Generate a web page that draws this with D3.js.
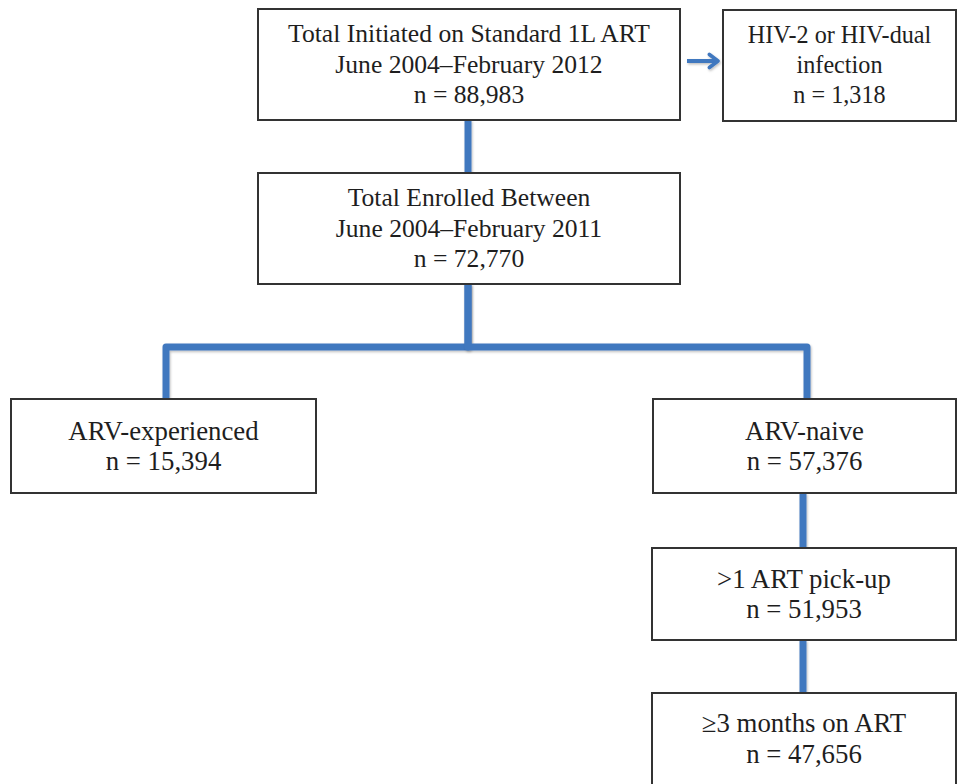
<!DOCTYPE html>
<html>
<head>
<meta charset="utf-8">
<script src="https://cdn.jsdelivr.net/npm/d3@7"></script>
<style>
  html, body { margin: 0; padding: 0; background: #fff; }
  svg { display: block; }
</style>
</head>
<body>
<div id="chart"></div>
<script>
// flow chart content
const nodeIds = ["initiated", "excluded", "enrolled", "experienced", "naive", "pickup", "onart"];
const nodeTitles = [
  ["Total Initiated on Standard 1L ART", "June 2004\u2013February 2012"],
  ["HIV-2 or HIV-dual", "infection"],
  ["Total Enrolled Between", "June 2004\u2013February 2011"],
  ["ARV-experienced"],
  ["ARV-naive"],
  [">1 ART pick-up"],
  ["\u22653 months on ART"],
];
const nodeCounts = [88983, 1318, 72770, 15394, 57376, 51953, 47656];

// links: [from, to, kind]
const links = [
  ["initiated", "excluded", "arrow"],
  ["initiated", "enrolled", "down"],
  ["enrolled", "experienced", "split"],
  ["enrolled", "naive", "split"],
  ["naive", "pickup", "down"],
  ["pickup", "onart", "down"],
];

const width = 957;
const height = 784;

// box geometry (layout only)
const layout = {
  initiated:   { x0: 258, x1: 680, y0: 9,   y1: 120, size: 25.6, gap: 30.5 },
  excluded:    { x0: 723, x1: 956, y0: 10,  y1: 121, size: 24.2, gap: 30 },
  enrolled:    { x0: 258, x1: 680, y0: 173, y1: 284, size: 25.6, gap: 30.5 },
  experienced: { x0: 11,  x1: 316, y0: 399, y1: 493, size: 26.8, gap: 30.5 },
  naive:       { x0: 653, x1: 956, y0: 399, y1: 493, size: 26.8, gap: 30.5 },
  pickup:      { x0: 652, x1: 956, y0: 548, y1: 640, size: 26.8, gap: 30.5 },
  onart:       { x0: 652, x1: 956, y0: 693, y1: 788, size: 26.8, gap: 31 },
};
const splitY = 347;

const lineColor = "#4178bf";
const fmt = d3.format(",");

const nodes = nodeIds.map((id, i) => ({
  id,
  lines: [...nodeTitles[i], `n = ${fmt(nodeCounts[i])}`],
  ...layout[id],
}));
const byId = Object.fromEntries(nodes.map((d) => [d.id, d]));
const cx = (d) => (d.x0 + d.x1) / 2;

const svg = d3
  .select("#chart")
  .append("svg")
  .attr("width", width)
  .attr("height", height);

const defs = svg.append("defs");
// user-space region so straight (zero-width) lines are not clipped
const shadow = defs.append("filter").attr("id", "shadow")
  .attr("filterUnits", "userSpaceOnUse")
  .attr("x", 0).attr("y", 0).attr("width", width).attr("height", height);
shadow.append("feDropShadow")
  .attr("dx", 1).attr("dy", 1.5).attr("stdDeviation", 1)
  .attr("flood-color", "#000").attr("flood-opacity", 0.25);

defs.append("marker")
  .attr("id", "head")
  .attr("viewBox", "0 0 10 10")
  .attr("refX", 8.2).attr("refY", 5)
  .attr("markerWidth", 4.3).attr("markerHeight", 4.3)
  .attr("markerUnits", "strokeWidth")
  .attr("orient", "auto")
  .append("path")
  .attr("d", "M3.2,1.2 L8.2,5 L3.2,8.8")
  .attr("fill", "none")
  .attr("stroke", lineColor)
  .attr("stroke-width", 2.1)
  .attr("stroke-linecap", "round")
  .attr("stroke-linejoin", "round");

// connectors
const linkPath = ([from, to, kind]) => {
  const a = byId[from];
  const b = byId[to];
  const p = d3.path();
  if (kind === "down") {
    const x = cx(b) - 1;
    p.moveTo(x, a.y1);
    p.lineTo(x, b.y0);
  } else if (kind === "split") {
    const xs = from === "enrolled" ? 468 : cx(a);
    const xe = to === "experienced" ? 166 : 807;
    p.moveTo(xs, a.y1);
    p.lineTo(xs, splitY);
    p.lineTo(xe, splitY);
    p.lineTo(xe, b.y0);
  } else {
    const y = 61;
    p.moveTo(a.x1 + 7, y);
    p.lineTo(b.x0 - 5, y);
  }
  return p.toString();
};

svg.append("g")
  .selectAll("path")
  .data(links.filter((l) => l[2] !== "arrow"))
  .join("path")
  .attr("d", linkPath)
  .attr("fill", "none")
  .attr("stroke", lineColor)
  .attr("stroke-width", 7)
  .attr("stroke-linejoin", "round")
  .attr("filter", "url(#shadow)");

svg.append("g")
  .selectAll("path")
  .data(links.filter((l) => l[2] === "arrow"))
  .join("path")
  .attr("d", linkPath)
  .attr("fill", "none")
  .attr("stroke", lineColor)
  .attr("stroke-width", 4)
  .attr("marker-end", "url(#head)")
  .attr("filter", "url(#shadow)");

// boxes
const box = svg.append("g")
  .selectAll("g")
  .data(nodes)
  .join("g");

box.append("rect")
  .attr("x", (d) => d.x0)
  .attr("y", (d) => d.y0)
  .attr("width", (d) => d.x1 - d.x0)
  .attr("height", (d) => d.y1 - d.y0)
  .attr("fill", "#fff")
  .attr("stroke", "#333")
  .attr("stroke-width", 2);

box.append("text")
  .attr("text-anchor", "middle")
  .attr("font-family", "'Liberation Serif', 'Times New Roman', serif")
  .attr("font-size", (d) => d.size)
  .attr("fill", "#1e1e1e")
  .each(function (d) {
    const mid = (d.y0 + Math.min(d.y1, 784)) / 2;
    const n = d.lines.length;
    const first = mid - ((n - 1) * d.gap) / 2 + d.size * 0.33;
    d3.select(this)
      .selectAll("tspan")
      .data(d.lines)
      .join("tspan")
      .attr("x", cx(d))
      .attr("y", (t, i) => first + i * d.gap)
      .text((t) => t);
  });
</script>
</body>
</html>
